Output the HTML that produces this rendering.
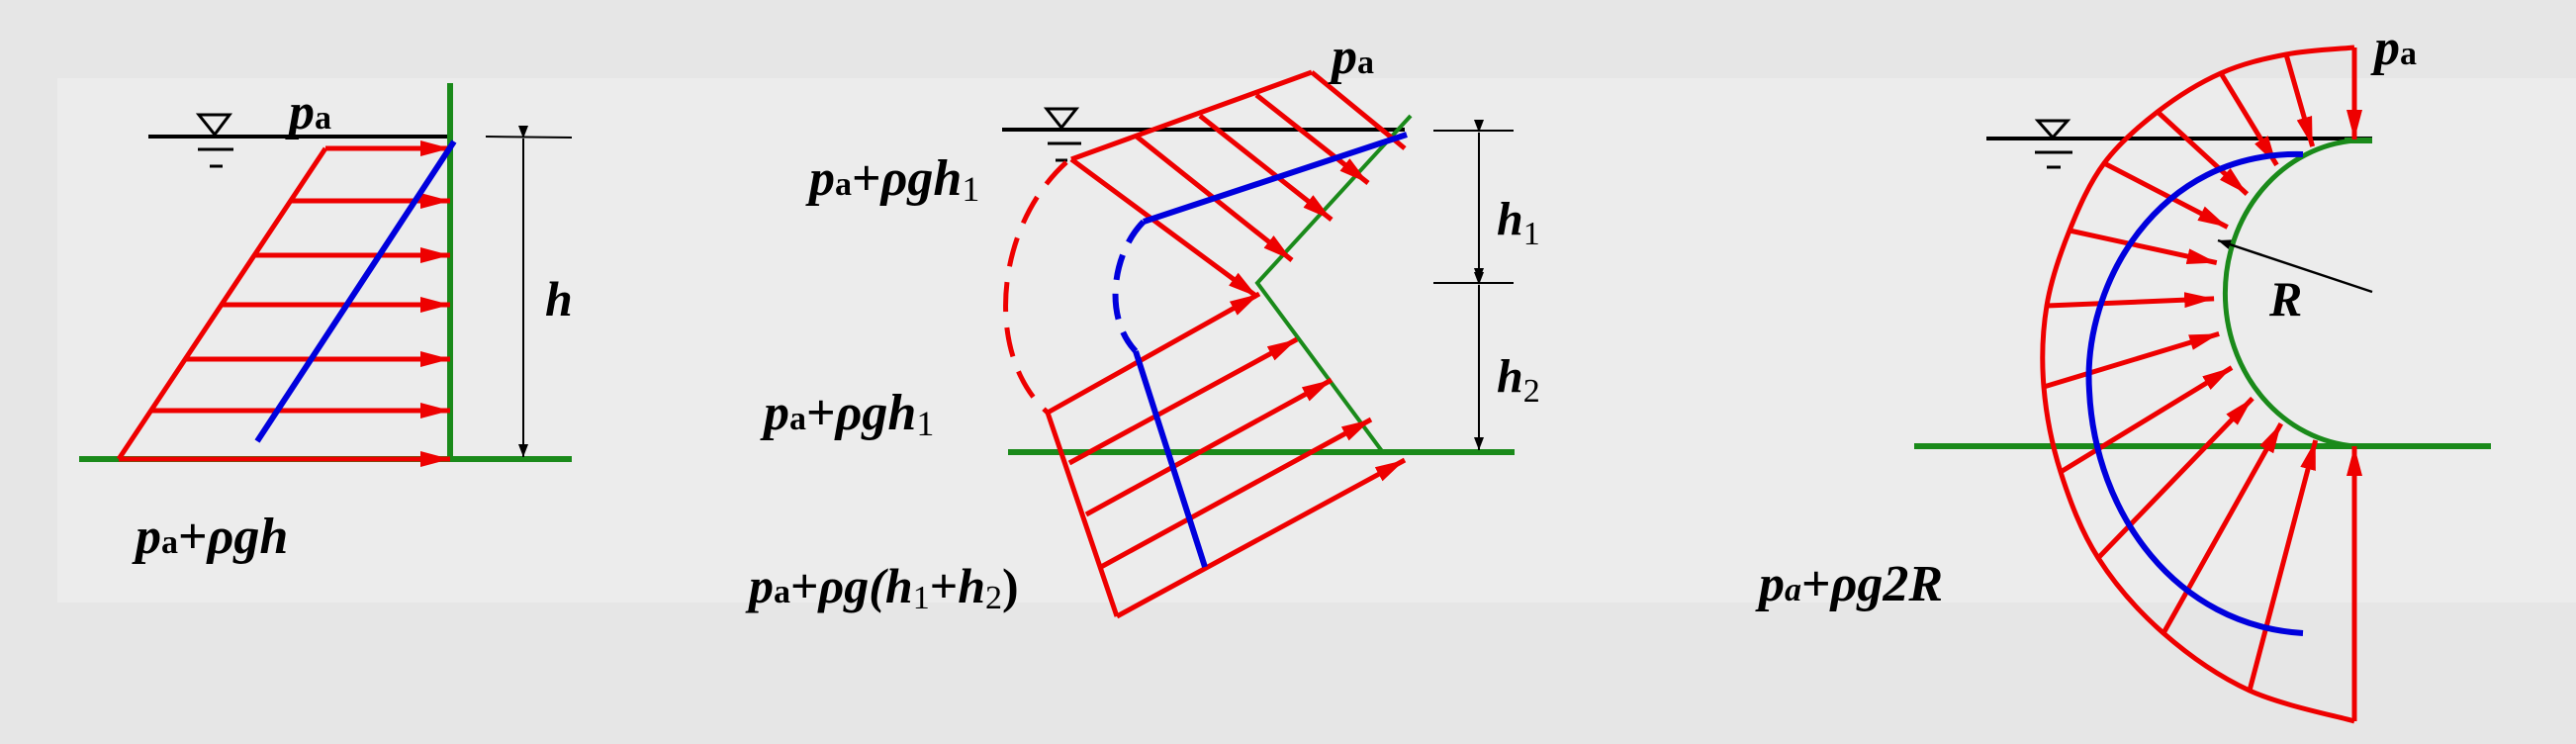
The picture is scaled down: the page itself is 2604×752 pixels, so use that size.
<!DOCTYPE html>
<html><head><meta charset="utf-8"><style>
html,body{margin:0;padding:0;background:#e6e6e6;}
svg{display:block;}
text{font-family:"Liberation Serif",serif;font-weight:bold;fill:#000;}
</style></head><body>
<svg width="2604" height="752" viewBox="0 0 2604 752" xmlns="http://www.w3.org/2000/svg">
<defs>
<marker id="ar" markerUnits="userSpaceOnUse" markerWidth="32" markerHeight="18" refX="30" refY="9" orient="auto"><path d="M0,1 L30,9 L0,17 Z" fill="#ee0000"/></marker>
<marker id="ak" markerUnits="userSpaceOnUse" markerWidth="14" markerHeight="10" refX="13" refY="5" orient="auto"><path d="M0,0 L13,5 L0,10 Z" fill="#000"/></marker>
</defs>
<rect x="0" y="0" width="2604" height="752" fill="#e6e6e6"/>
<rect x="58" y="79" width="2546" height="530" fill="#ececec"/>

<g>
<line x1="150" y1="138" x2="455" y2="138" stroke="#000" stroke-width="4"/>
<path d="M201,116 L232,116 L217,136 Z" fill="none" stroke="#000" stroke-width="3"/>
<line x1="200" y1="151" x2="236" y2="151" stroke="#000" stroke-width="3"/>
<line x1="212" y1="168" x2="225" y2="168" stroke="#000" stroke-width="3"/>
<line x1="455" y1="84" x2="455" y2="464" stroke="#1a8a1a" stroke-width="6"/>
<line x1="80" y1="464" x2="578" y2="464" stroke="#1a8a1a" stroke-width="6"/>
<g stroke="#ee0000" stroke-width="5" fill="none">
<line x1="329" y1="150" x2="120" y2="464"/>
<line x1="329" y1="150" x2="455" y2="150" marker-end="url(#ar)"/>
<line x1="294" y1="203" x2="455" y2="203" marker-end="url(#ar)"/>
<line x1="257" y1="258" x2="455" y2="258" marker-end="url(#ar)"/>
<line x1="224" y1="308" x2="455" y2="308" marker-end="url(#ar)"/>
<line x1="187" y1="363" x2="455" y2="363" marker-end="url(#ar)"/>
<line x1="153" y1="415" x2="455" y2="415" marker-end="url(#ar)"/>
<line x1="120" y1="464" x2="455" y2="464" marker-end="url(#ar)"/>
</g>
<line x1="459" y1="143" x2="260" y2="446" stroke="#0000dd" stroke-width="6"/>
<line x1="491" y1="138" x2="578" y2="139" stroke="#000" stroke-width="2"/>
<line x1="529" y1="140" x2="529" y2="462" stroke="#000" stroke-width="2" marker-start="url(#ak)" marker-end="url(#ak)"/>
<text x="551" y="319" font-size="50" font-style="italic">h</text>
<text x="292" y="130" font-size="52" font-style="italic">p<tspan font-size="34" font-style="normal">a</tspan></text>
<text x="137" y="559" font-size="52" font-style="italic">p<tspan font-size="34" font-style="normal">a</tspan><tspan font-style="normal">+</tspan>ρgh</text>
</g>

<g>
<line x1="1013" y1="131" x2="1420" y2="131" stroke="#000" stroke-width="4"/>
<path d="M1058,110 L1088,110 L1073,129 Z" fill="none" stroke="#000" stroke-width="3"/>
<line x1="1059" y1="145" x2="1093" y2="145" stroke="#000" stroke-width="3"/>
<line x1="1067" y1="162" x2="1079" y2="162" stroke="#000" stroke-width="3"/>
<polyline points="1426,117 1271,286 1397,456" fill="none" stroke="#1a8a1a" stroke-width="4"/>
<line x1="1019" y1="457" x2="1531" y2="457" stroke="#1a8a1a" stroke-width="6"/>
<g stroke="#ee0000" stroke-width="5" fill="none">
<polyline points="1083,161 1326,73"/>
<line x1="1083" y1="161" x2="1271" y2="300" marker-end="url(#ar)"/>
<line x1="1149" y1="138" x2="1306" y2="263" marker-end="url(#ar)"/>
<line x1="1213" y1="117" x2="1346" y2="222" marker-end="url(#ar)"/>
<line x1="1270" y1="96" x2="1383" y2="185" marker-end="url(#ar)"/>
<line x1="1326" y1="73" x2="1420" y2="150"/>
<line x1="1059" y1="417" x2="1129" y2="623"/>
<line x1="1059" y1="417" x2="1273" y2="297" marker-end="url(#ar)"/>
<line x1="1081" y1="468" x2="1311" y2="343" marker-end="url(#ar)"/>
<line x1="1098" y1="520" x2="1346" y2="384" marker-end="url(#ar)"/>
<line x1="1113" y1="573" x2="1386" y2="424" marker-end="url(#ar)"/>
<line x1="1129" y1="623" x2="1420" y2="465" marker-end="url(#ar)"/>
<path d="M1078,164 C1005,230 995,360 1059,417" stroke-dasharray="30,16"/>
</g>
<g stroke="#0000dd" stroke-width="6" fill="none">
<polyline points="1422,136 1156,224"/>
<path d="M1156,224 C1125,255 1115,320 1148,355" stroke-dasharray="26,14"/>
<polyline points="1148,355 1218,573"/>
</g>
<line x1="1449" y1="132" x2="1530" y2="132" stroke="#000" stroke-width="2"/>
<line x1="1449" y1="286" x2="1530" y2="286" stroke="#000" stroke-width="2"/>
<line x1="1495" y1="134" x2="1495" y2="284" stroke="#000" stroke-width="2" marker-start="url(#ak)" marker-end="url(#ak)"/>
<line x1="1495" y1="288" x2="1495" y2="455" stroke="#000" stroke-width="2" marker-start="url(#ak)" marker-end="url(#ak)"/>
<text x="1513" y="237" font-size="48" font-style="italic">h<tspan font-size="34" font-style="normal" font-weight="normal" dy="10">1</tspan></text>
<text x="1513" y="396" font-size="48" font-style="italic">h<tspan font-size="34" font-style="normal" font-weight="normal" dy="10">2</tspan></text>
<text x="1346" y="74" font-size="52" font-style="italic">p<tspan font-size="34" font-style="normal">a</tspan></text>
<text x="818" y="197" font-size="52" font-style="italic">p<tspan font-size="34" font-style="normal">a</tspan><tspan font-style="normal">+</tspan>ρgh<tspan font-size="36" font-style="normal" font-weight="normal" dy="6">1</tspan></text>
<text x="772" y="434" font-size="52" font-style="italic">p<tspan font-size="34" font-style="normal">a</tspan><tspan font-style="normal">+</tspan>ρgh<tspan font-size="36" font-style="normal" font-weight="normal" dy="6">1</tspan></text>
<text x="757" y="609" font-size="50" font-style="italic">p<tspan font-size="34" font-style="normal">a</tspan><tspan font-style="normal">+</tspan>ρg(h<tspan font-size="34" font-style="normal" font-weight="normal" dy="6">1</tspan><tspan font-style="normal" dy="-6">+</tspan>h<tspan font-size="34" font-style="normal" font-weight="normal" dy="6">2</tspan><tspan font-style="normal" dy="-6">)</tspan></text>
</g>

<g>
<line x1="2008" y1="140" x2="2398" y2="140" stroke="#000" stroke-width="4"/>
<path d="M2060,122 L2090,122 L2075,139 Z" fill="none" stroke="#000" stroke-width="3"/>
<line x1="2057" y1="154" x2="2095" y2="154" stroke="#000" stroke-width="3"/>
<line x1="2069" y1="169" x2="2083" y2="169" stroke="#000" stroke-width="3"/>
<line x1="2370" y1="142" x2="2398" y2="142" stroke="#1a8a1a" stroke-width="6"/>
<line x1="1935" y1="451" x2="2518" y2="451" stroke="#1a8a1a" stroke-width="6"/>
<path d="M2380,142 A142,155 0 0 0 2380,451" fill="none" stroke="#1a8a1a" stroke-width="5"/>
<g stroke="#ee0000" stroke-width="5" fill="none" id="p3arrows"></g>
<path d="M2328,156 C2180,152 2105,290 2112,395 C2118,520 2200,632 2328,640" fill="none" stroke="#0000dd" stroke-width="6"/>
<line x1="2398" y1="295" x2="2242" y2="243" stroke="#000" stroke-width="2.5" marker-end="url(#ak)"/>
<text x="2294" y="319" font-size="50" font-style="italic" font-weight="normal">R</text>
<text x="2400" y="65" font-size="52" font-style="italic">p<tspan font-size="34" font-style="normal">a</tspan></text>
<text x="1778" y="607" font-size="52" font-style="italic">p<tspan font-size="34">a</tspan><tspan font-style="normal">+</tspan>ρg2R</text>
</g>
</svg>
<script>
const tailX=[2380,2311,2245,2181,2127,2092,2069,2066,2083,2121,2187,2274,2380];
const tailY=[48,55,74,113,165,233,309,391,477,564,640,698,729];
(function(){
const g=document.getElementById('p3arrows');
const NS='http://www.w3.org/2000/svg';
const cx=2380, cy=296, rx=142, ry=155;
for(let k=0;k<tailX.length;k++){
  const dx=tailX[k]-cx, dy=tailY[k]-cy;
  const s=1/Math.sqrt((dx*dx)/(rx*rx)+(dy*dy)/(ry*ry));
  const tx=cx+dx*s, ty=cy+dy*s;
  const l=document.createElementNS(NS,'line');
  
  
  l.setAttribute('x1',tailX[k]);l.setAttribute('y1',tailY[k]);
  l.setAttribute('x2',tx);l.setAttribute('y2',ty);
  l.setAttribute('marker-end','url(#ar)');
  g.appendChild(l);
}
let d='M'+tailX[0]+','+tailY[0];
for(let k=0;k<tailX.length-1;k++){
  const p0x=tailX[Math.max(k-1,0)], p0y=tailY[Math.max(k-1,0)];
  const p1x=tailX[k], p1y=tailY[k], p2x=tailX[k+1], p2y=tailY[k+1];
  const p3x=tailX[Math.min(k+2,tailX.length-1)], p3y=tailY[Math.min(k+2,tailX.length-1)];
  d+=' C'+(p1x+(p2x-p0x)/6)+','+(p1y+(p2y-p0y)/6)+' '+(p2x-(p3x-p1x)/6)+','+(p2y-(p3y-p1y)/6)+' '+p2x+','+p2y;
}
const pl=document.createElementNS(NS,'path');


pl.setAttribute('d',d);
g.appendChild(pl);
})();
</script>
</body></html>
